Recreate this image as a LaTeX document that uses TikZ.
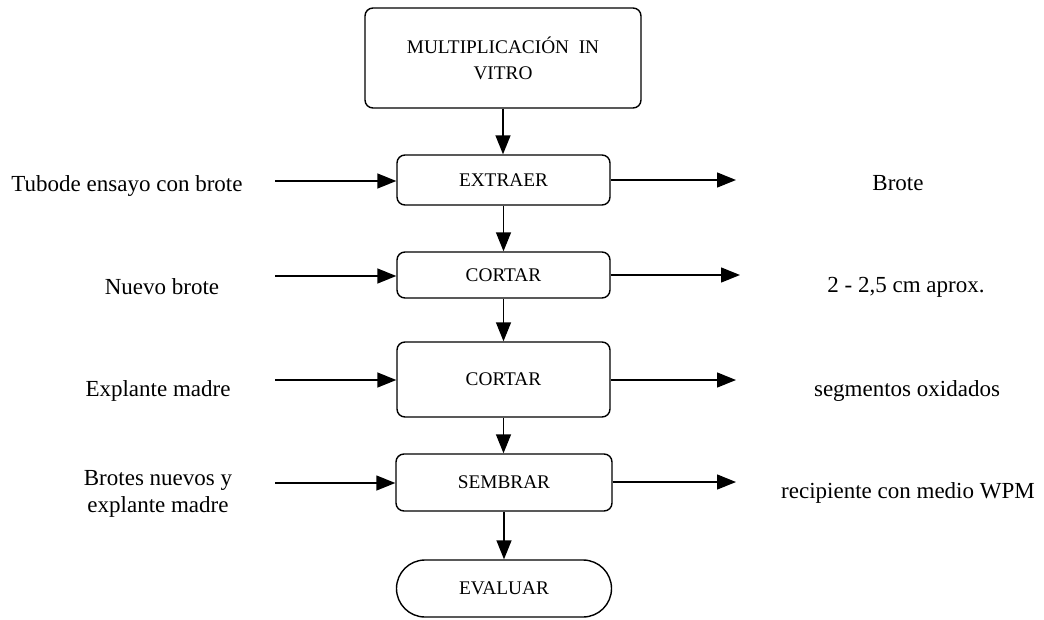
\documentclass[tikz,border=0pt]{standalone}
\usepackage{fontspec}
\setmainfont{Liberation Serif}
\usetikzlibrary{arrows.meta,shapes.misc}
\begin{document}
\begin{tikzpicture}[x=1pt,y=-1pt,
  box/.style={draw,line width=1.4pt,rounded corners=8pt,inner sep=0pt,font=\fontsize{19.3}{26}\selectfont,align=center},
  term/.style={draw,line width=1.4pt,rounded rectangle,inner sep=0pt,font=\fontsize{19.3}{26}\selectfont},
  lbl/.style={font=\fontsize{23}{27}\selectfont,align=center,inner sep=0pt},
  arr/.style={line width=1.4pt,-{Triangle[length=19pt,width=15pt]}}]
\useasboundingbox (0,0) rectangle (1044,619);
\node[box,minimum width=276pt,minimum height=100pt] (top) at (503,58) {MULTIPLICACIÓN\ \ IN\\VITRO};
\node[box,minimum width=213pt,minimum height=50pt] (b1) at (503.5,180) {EXTRAER};
\node[box,minimum width=213pt,minimum height=46pt] (b2) at (503.5,275) {CORTAR};
\node[box,minimum width=213pt,minimum height=75pt] (b3) at (503.5,379.5) {CORTAR};
\node[box,minimum width=216pt,minimum height=57pt] (b4) at (504,482.5) {SEMBRAR};
\node[term,minimum width=215pt,minimum height=57pt] (b5) at (504,588.5) {EVALUAR};
\draw[arr] (top.south |- top.south) -- (top.south |- b1.north);
\draw[arr] (b1.south) -- (b1.south |- b2.north);
\draw[arr] (b2.south) -- (b2.south |- b3.north);
\draw[arr] (b3.south) -- (b3.south |- b4.north);
\draw[arr] (b4.south) -- (b4.south |- b5.north);
% left inputs
\node[lbl] (l1) at (127,186) {Tubode ensayo con brote};
\node[lbl] (l2) at (162,287) {Nuevo brote};
\node[lbl] (l3) at (158,391) {Explante madre};
\node[lbl] (l4) at (158,494) {Brotes nuevos y\\explante madre};
\coordinate (s1) at (275,181);
\coordinate (s2) at (275,276);
\coordinate (s3) at (275,380);
\coordinate (s4) at (275,483);
\draw[arr] (s1) -- (s1 -| b1.west);
\draw[arr] (s2) -- (s2 -| b2.west);
\draw[arr] (s3) -- (s3 -| b3.west);
\draw[arr] (s4) -- (s4 -| b4.west);
% right outputs
\coordinate (e1) at (736,180);
\coordinate (e2) at (740,275);
\coordinate (e3) at (736,380);
\coordinate (e4) at (736,482);
\draw[arr] (e1 -| b1.east) -- (e1);
\draw[arr] (e2 -| b2.east) -- (e2);
\draw[arr] (e3 -| b3.east) -- (e3);
\draw[arr] (e4 -| b4.east) -- (e4);
\node[lbl] (r1) at (898,183) {Brote};
\node[lbl] (r2) at (906,287) {2 - 2,5 cm aprox.};
\node[lbl] (r3) at (907,391) {segmentos oxidados};
\node[lbl] (r4) at (908,493) {recipiente con medio WPM};
\end{tikzpicture}
\end{document}
